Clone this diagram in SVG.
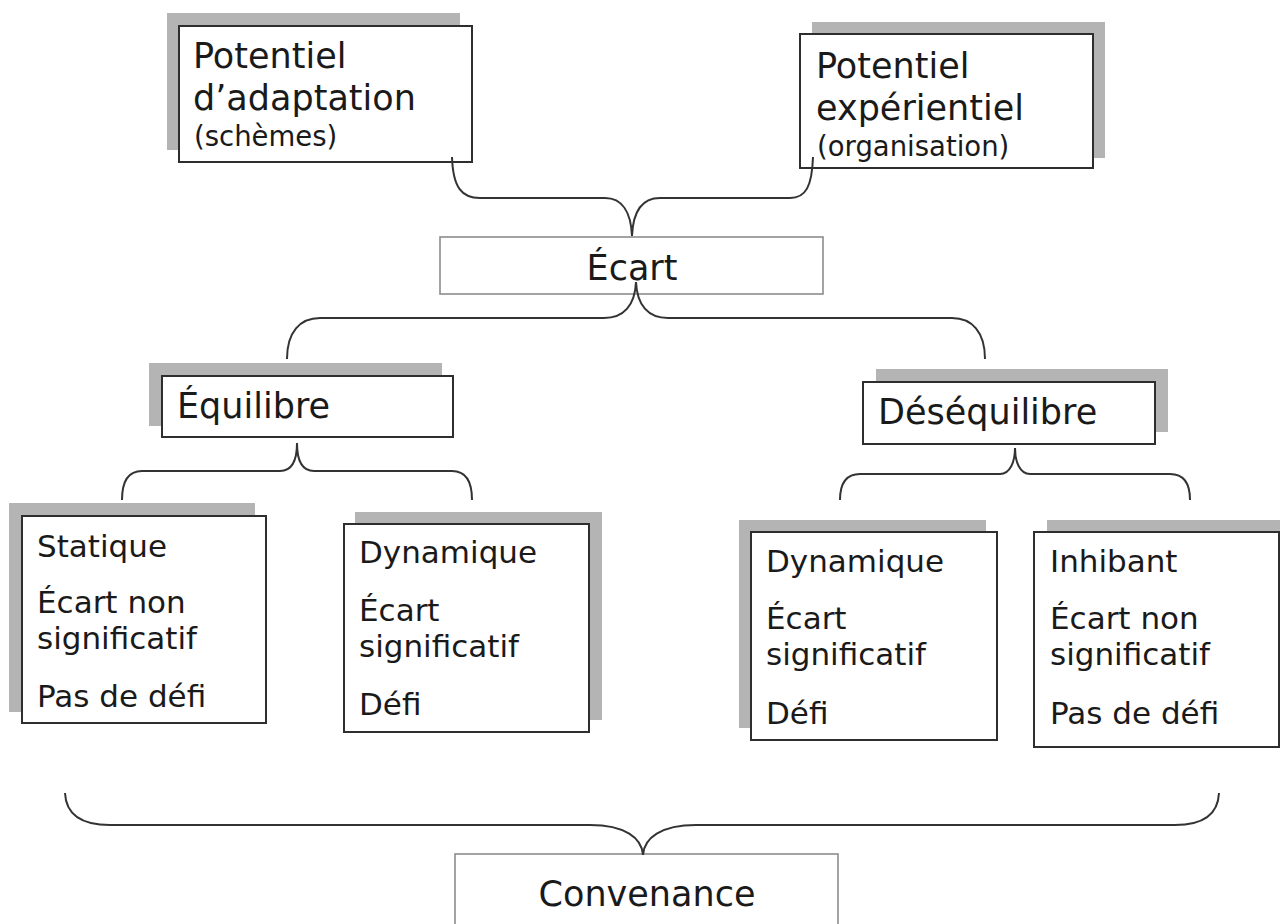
<svg xmlns="http://www.w3.org/2000/svg" width="1280" height="924" viewBox="0 0 1280 924">
<style>
.shadow{fill:#b4b4b4}
.box{fill:#fff;stroke:#2e2e2e;stroke-width:2}
.gbox{fill:#fff;stroke:#8c8c8c;stroke-width:1.6}
.t{font-family:"DejaVu Sans",Verdana,sans-serif;fill:#1a1a1a}
.big{font-size:35px}
.mid{font-size:31px}
.small{font-size:27.5px}
.conn{fill:none;stroke:#333;stroke-width:2}
</style>
<rect width="1280" height="924" fill="#fff"/>
<g id="potentiel-adaptation">
<rect class="shadow" x="167" y="13" width="293" height="137"/>
<rect class="box" x="179" y="26" width="293" height="136"/>
<text class="t big" x="193" y="68">Potentiel</text>
<text class="t big" x="193" y="110">d’adaptation</text>
<text class="t small" x="194" y="146">(schèmes)</text>
</g>
<g id="potentiel-experientiel">
<rect class="shadow" x="812" y="22" width="293" height="136"/>
<rect class="box" x="800" y="34" width="293" height="134"/>
<text class="t big" x="816" y="78">Potentiel</text>
<text class="t big" x="816" y="120">expérientiel</text>
<text class="t small" x="817" y="156">(organisation)</text>
</g>
<g id="ecart">
<rect class="gbox" x="440" y="237" width="383" height="57"/>
<text class="t big" x="632" y="280" text-anchor="middle">Écart</text>
</g>
<g id="equilibre">
<rect class="shadow" x="149" y="363" width="293" height="63"/>
<rect class="box" x="162" y="376" width="291" height="61"/>
<text class="t big" x="177" y="418">Équilibre</text>
</g>
<g id="desequilibre">
<rect class="shadow" x="876" y="369" width="292" height="63"/>
<rect class="box" x="863" y="382" width="292" height="62"/>
<text class="t big" x="878" y="424">Déséquilibre</text>
</g>
<g id="statique">
<rect class="shadow" x="9" y="503" width="246" height="209"/>
<rect class="box" x="22" y="516" width="244" height="207"/>
<text class="t mid" x="37" y="557">Statique</text>
<text class="t mid" x="37" y="613">Écart non</text>
<text class="t mid" x="37" y="649">significatif</text>
<text class="t mid" x="37" y="707">Pas de défi</text>
</g>
<g id="dynamique-equilibre">
<rect class="shadow" x="355" y="512" width="247" height="208"/>
<rect class="box" x="344" y="524" width="245" height="208"/>
<text class="t mid" x="359" y="563">Dynamique</text>
<text class="t mid" x="359" y="621">Écart</text>
<text class="t mid" x="359" y="657">significatif</text>
<text class="t mid" x="359" y="715">Défi</text>
</g>
<g id="dynamique-desequilibre">
<rect class="shadow" x="739" y="520" width="247" height="208"/>
<rect class="box" x="751" y="532" width="246" height="208"/>
<text class="t mid" x="766" y="572">Dynamique</text>
<text class="t mid" x="766" y="629">Écart</text>
<text class="t mid" x="766" y="665">significatif</text>
<text class="t mid" x="766" y="724">Défi</text>
</g>
<g id="inhibant">
<rect class="shadow" x="1047" y="520" width="240" height="208"/>
<rect class="box" x="1034" y="532" width="245" height="215"/>
<text class="t mid" x="1050" y="572">Inhibant</text>
<text class="t mid" x="1050" y="629">Écart non</text>
<text class="t mid" x="1050" y="665">significatif</text>
<text class="t mid" x="1050" y="724">Pas de défi</text>
</g>
<g id="convenance">
<rect class="gbox" x="455" y="854" width="383" height="80"/>
<text class="t big" x="647" y="906" text-anchor="middle">Convenance</text>
</g>
<g id="connectors">
<path class="conn" d="M452,157 C453,188 462,198 480,198 L605,198 C622,198 631,212 632,236 C633,212 642,198 660,198 L790,198 C806,198 812,186 813,157"/>
<path class="conn" d="M287,359 C287,332 300,318 320,318 L604,318 C624,318 635,305 636,282 C637,305 648,318 668,318 L952,318 C972,318 985,332 985,359"/>
<path class="conn" d="M122,500 C122,482 128,471 142,471 L280,471 C292,471 297,460 297,443 C297,460 302,471 314,471 L452,471 C466,471 472,482 472,500"/>
<path class="conn" d="M840,500 C840,484 846,474 860,474 L1000,474 C1010,474 1015,462 1015,448 C1015,462 1020,474 1030,474 L1170,474 C1184,474 1190,484 1190,500"/>
<path class="conn" d="M65,793 C66,815 82,825 110,825 L590,825 C625,825 642,838 643,855 C644,838 661,825 696,825 L1175,825 C1203,825 1218,815 1219,793"/>
</g>
</svg>
